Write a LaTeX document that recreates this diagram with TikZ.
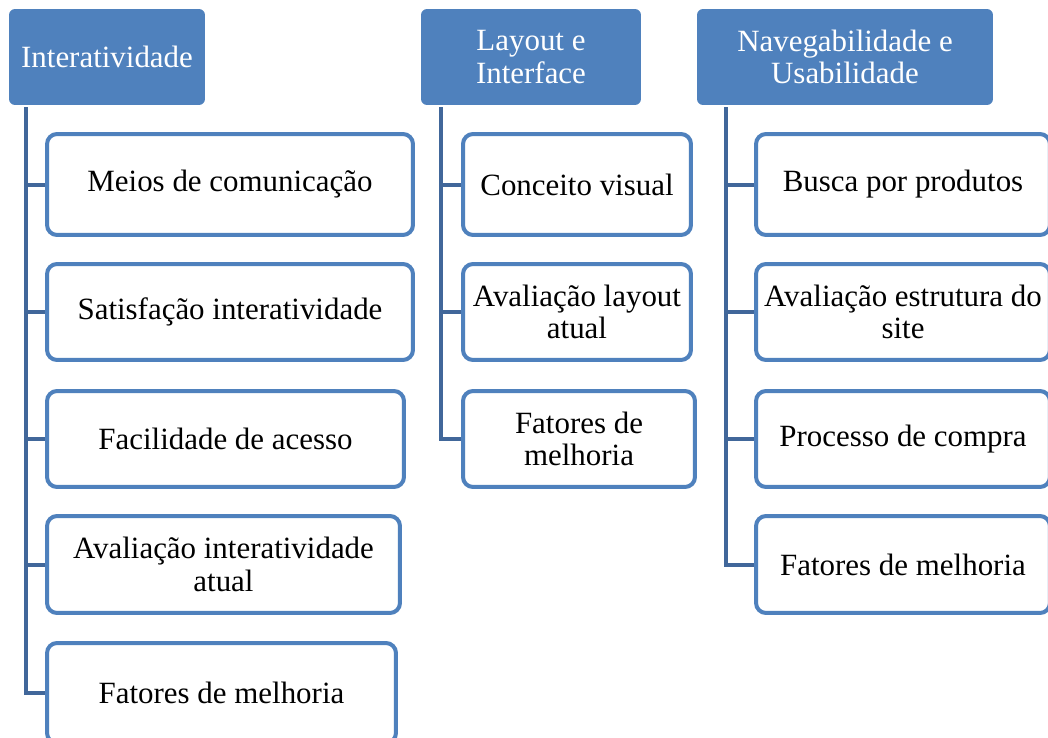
\documentclass[tikz,border=0pt]{standalone}
\usepackage{fontspec}
\setmainfont{Liberation Serif}

\definecolor{hdrblue}{HTML}{4F81BD}
\definecolor{linkblue}{HTML}{41679A}

\tikzset{
  header/.style={fill=hdrblue, text=white, rounded corners=0.12cm, inner sep=0pt,
    align=center, minimum height=1.92cm, font=\fontsize{17.6}{18.5}\selectfont},
  item/.style={draw=hdrblue, line width=0.08cm, fill=white, rounded corners=0.2cm,
    inner sep=0pt, align=center, font=\fontsize{17.6}{18.5}\selectfont},
  conn/.style={draw=linkblue, line width=0.08cm}
}

\begin{document}
\begin{tikzpicture}[x=0.02cm,y=-0.02cm]
  \clip (0,0) rectangle (1048,737);

  % topics
  \node[header, minimum width=3.92cm] (h1) at (107,57) {Interatividade};
  \node[header, minimum width=4.40cm] (h2) at (531,57) {Layout e\\Interface};
  \node[header, minimum width=5.92cm] (h3) at (845,57) {Navegabilidade e\\Usabilidade};

  % Interatividade
  \node[item, minimum width=7.32cm, minimum height=2.02cm] (m1) at (230,184.5) {Meios de comunicação};
  \node[item, minimum width=7.32cm, minimum height=1.92cm] (m2) at (230,312) {Satisfação interatividade};
  \node[item, minimum width=7.14cm, minimum height=1.92cm] (m3) at (225.5,439) {Facilidade de acesso};
  \node[item, minimum width=7.06cm, minimum height=1.94cm] (m4) at (223.5,564.5) {Avaliação interatividade\\atual};
  \node[item, minimum width=6.98cm, minimum height=2.00cm] (m5) at (221.5,693) {Fatores de melhoria};

  % Layout e Interface
  \node[item, minimum width=4.56cm, minimum height=2.02cm] (l1) at (577,184.5) {Conceito visual};
  \node[item, minimum width=4.56cm, minimum height=1.92cm] (l2) at (577,312) {Avaliação layout\\atual};
  \node[item, minimum width=4.64cm, minimum height=1.92cm] (l3) at (579,439) {Fatores de\\melhoria};

  % Navegabilidade e Usabilidade
  \node[item, minimum width=5.88cm, minimum height=2.02cm] (n1) at (903,184.5) {Busca por produtos};
  \node[item, minimum width=5.88cm, minimum height=1.92cm] (n2) at (903,312) {Avaliação estrutura do\\site};
  \node[item, minimum width=5.88cm, minimum height=1.92cm] (n3) at (903,439) {Processo de compra};
  \node[item, minimum width=5.88cm, minimum height=1.94cm] (n4) at (903,564.5) {Fatores de melhoria};

  % trunks
  \coordinate (t1) at (26,107);
  \coordinate (t2) at (441,107);
  \coordinate (t3) at (726,107);

  \draw[conn] (t1) |- (m5.west);
  \foreach \c in {m1,m2,m3,m4}
    \draw[conn] (t1 |- \c.west) -- (\c.west);

  \draw[conn] (t2) |- (l3.west);
  \foreach \c in {l1,l2}
    \draw[conn] (t2 |- \c.west) -- (\c.west);

  \draw[conn] (t3) |- (n4.west);
  \foreach \c in {n1,n2,n3}
    \draw[conn] (t3 |- \c.west) -- (\c.west);
\end{tikzpicture}
\end{document}
